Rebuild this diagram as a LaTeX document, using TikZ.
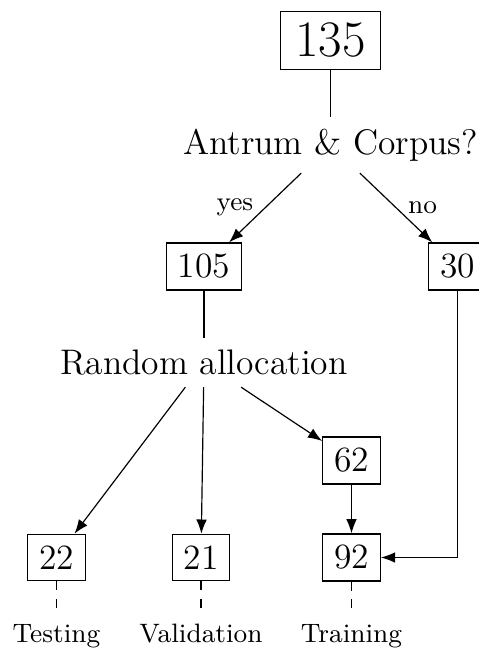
\documentclass[tikz,border=0pt]{standalone}
\usetikzlibrary{arrows.meta}

\begin{document}
\begin{tikzpicture}[x=0.338pt,y=-0.338pt,inner sep=3.85pt,>={Latex},
    count/.style={draw,font=\large},
    question/.style={font=\large},
    split/.style={font=\small}]
    \useasboundingbox (0,0) rectangle (478,649);

    \node[draw,font=\LARGE,inner xsep=5pt] (total) at (330.5,40.5) {135};
    \node[question] (antrum) at (330.5,145) {Antrum \& Corpus?};
    \node[count] (both) at (204,266.5) {105};
    \node[count] (other) at (457.5,266.5) {30};
    \node[question] (random) at (204,362.5) {Random allocation};
    \node[count] (extra) at (351.5,460.5) {62};
    \node[count] (test) at (56.5,557.5) {22};
    \node[count] (valid) at (201,557.5) {21};
    \node[count] (train) at (351.5,557.5) {92};
    \node[split,anchor=north] (testlab) at (56.5,612) {Testing};
    \node[split,anchor=north] (validlab) at (201,612) {Validation};
    \node[split,anchor=north] (trainlab) at (351.5,612) {Training};

    \draw (total) -- (antrum);
    \draw[->] (antrum) -- node[split,left] (yes) {yes} (both);
    \draw[->] (antrum) -- node[split,right] (no) {no} (other);
    \draw (both) -- (random);
    \draw[->] (random) -- (test);
    \draw[->] (random) -- (valid);
    \draw[->] (random) -- (extra);
    \draw[->] (extra) -- (train);
    \draw[->] (other) |- (train);
    \draw[dashed] (test) -- (testlab);
    \draw[dashed] (valid) -- (validlab);
    \draw[dashed] (train) -- (trainlab);
\end{tikzpicture}
\end{document}
